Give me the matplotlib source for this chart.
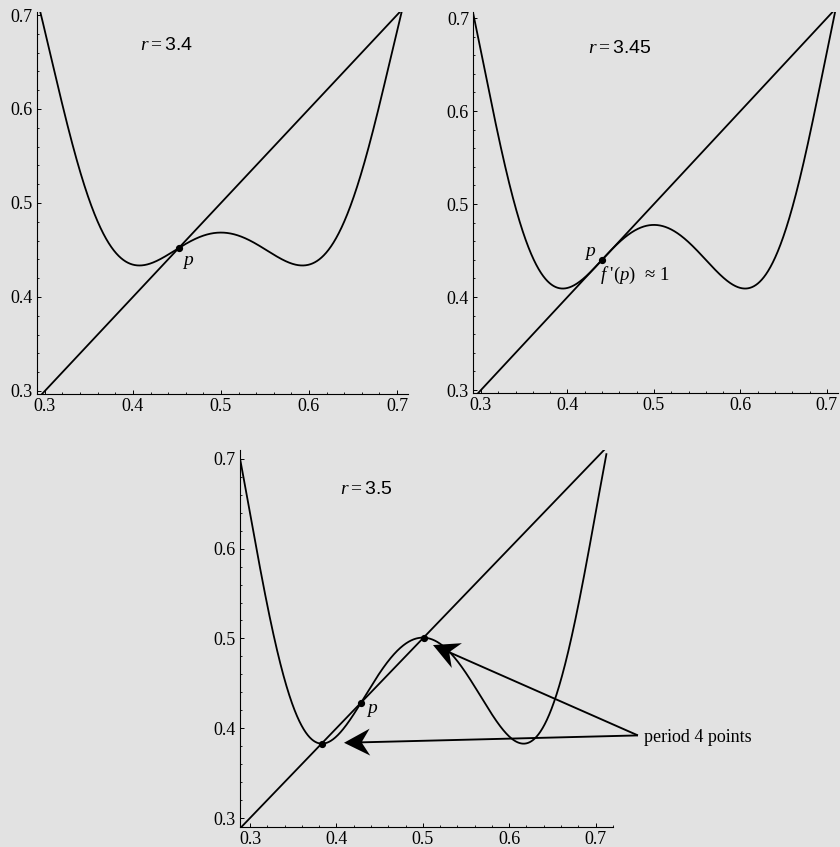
import numpy as np
import matplotlib
matplotlib.use("Agg")
import matplotlib.pyplot as plt
from matplotlib.ticker import MultipleLocator, FixedLocator

plt.rcParams["font.family"] = ["Liberation Serif", "DejaVu Serif"]
plt.rcParams["mathtext.fontset"] = "custom"
plt.rcParams["mathtext.rm"] = "Liberation Serif"
plt.rcParams["mathtext.it"] = "Liberation Serif:italic"
plt.rcParams["mathtext.sf"] = "Liberation Sans"

BG = "#e2e2e2"

# logistic map parameters, one per panel
r_values = [3.4, 3.45, 3.5]
r_labels = ["3.4", "3.45", "3.5"]
x_domain = (0.2875, 0.7125)
tick_values = [0.3, 0.4, 0.5, 0.6, 0.7]
tick_labels = ["0.3", "0.4", "0.5", "0.6", "0.7"]
# period-4 orbit points inside the window for r = 3.5
period4_points = [0.3828, 0.5009]

# axes boxes (figure fraction) and view limits per panel
rects = [
    [0.0440, 0.5351, 0.4417, 0.4505],
    [0.5633, 0.5362, 0.4340, 0.4496],
    [0.2857, 0.0236, 0.4439, 0.4453],
]
xlims = [(0.291, 0.7125), (0.291, 0.7125), (0.2884, 0.720)]
ylims = [(0.297, 0.703), (0.297, 0.7065), (0.290, 0.710)]


def logistic(x, r):
    return r * x * (1 - x)


def f4(x, r):
    for _ in range(4):
        x = logistic(x, r)
    return x


def period2_low(r):
    return ((r + 1) - np.sqrt((r - 3) * (r + 1))) / (2 * r)


fig = plt.figure(figsize=(8.4, 8.47), dpi=100, facecolor=BG)
xs = np.linspace(x_domain[0], x_domain[1], 3000)

axes = []
for i, r in enumerate(r_values):
    ax = fig.add_axes(rects[i])
    ax.set_facecolor("none")
    ax.plot(xs, f4(xs, r), color="black", lw=1.3)
    ax.plot(xs, xs, color="black", lw=1.3)
    p = period2_low(r)
    ax.plot([p], [p], "o", color="black", ms=4.2)
    ax.set_xlim(*xlims[i])
    ax.set_ylim(*ylims[i])
    for s in ["top", "right"]:
        ax.spines[s].set_visible(False)
    for s in ["left", "bottom"]:
        ax.spines[s].set_linewidth(0.8)
    ax.xaxis.set_major_locator(FixedLocator(tick_values))
    ax.yaxis.set_major_locator(FixedLocator(tick_values))
    ax.set_xticklabels(tick_labels)
    ax.set_yticklabels(tick_labels)
    ax.xaxis.set_minor_locator(MultipleLocator(0.02))
    ax.yaxis.set_minor_locator(MultipleLocator(0.02))
    ax.tick_params(which="major", direction="in", length=3, width=0.7,
                   labelsize=13, pad=3)
    ax.tick_params(which="minor", direction="in", length=1.5, width=0.6)
    axes.append(ax)

ax1, ax2, ax3 = axes

ax1.text(0.408, 0.668, r"$r = \mathsf{%s}$" % r_labels[0], fontsize=14, va="center")
ax1.text(0.4625, 0.437, r"$p$", fontsize=14, va="center", ha="center")

ax2.text(0.4237, 0.6677, r"$r = \mathsf{%s}$" % r_labels[1], fontsize=14, va="center")
ax2.text(0.426, 0.4473, r"$p$", fontsize=14, va="center", ha="center")
ax2.text(0.4376, 0.4237, "$f$ '($p$)  \u2248 1", fontsize=13.5, va="center")

ax3.text(0.4042, 0.6653, r"$r = \mathsf{%s}$" % r_labels[2], fontsize=14, va="center")
ax3.text(0.4412, 0.4192, r"$p$", fontsize=14, va="center", ha="center")
ax3.plot(period4_points, period4_points, "o", color="black", ms=4.2)

# label and arrows pointing at the period-4 points
tail = (0.749, 0.392)
ax3.text(0.756, 0.390, "period 4 points", fontsize=13, va="center")
for tip in [(0.5118, 0.4926), (0.4088, 0.3838)]:
    arr = ax3.arrow(tail[0], tail[1], tip[0] - tail[0], tip[1] - tail[1],
                    width=0.0021, head_width=0.030, head_length=0.030,
                    overhang=0.3, length_includes_head=True,
                    color="black", lw=0)
    arr.set_clip_on(False)

fig.savefig("out.png", dpi=100, facecolor=BG)
